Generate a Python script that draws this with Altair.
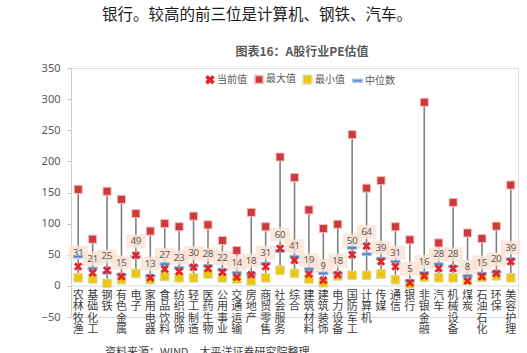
import altair as alt
import pandas as pd

# ---------------- data ----------------
categories = ["农林牧渔", "基础化工", "钢铁", "有色金属", "电子", "家用电器", "食品饮料",
              "纺织服饰", "轻工制造", "医药生物", "公用事业", "交通运输", "房地产", "商贸零售",
              "社会服务", "综合", "建筑材料", "建筑装饰", "电力设备", "国防军工", "计算机",
              "传媒", "通信", "银行", "非银金融", "汽车", "机械设备", "煤炭", "石油石化",
              "环保", "美容护理"]
current_vals = [31, 21, 25, 15, 49, 13, 27, 23, 30, 28, 22, 14, 18, 31, 60, 41, 19, 9, 18,
                50, 64, 39, 31, 5, 16, 28, 28, 8, 15, 20, 39]
max_vals = [155, 75, 152, 139, 116, 88, 100, 95, 112, 98, 73, 57, 118, 95, 207, 174, 122, 92,
            99, 243, 157, 169, 95, 74, 295, 69, 134, 85, 76, 96, 162]
min_vals = [13, 11, 4, 10, 20, 10, 15, 13, 13, 19, 13, 11, 8, 13, 25, 20, 11, 5, 16, 17, 17,
            19, 10, 3, 14, 13, 13, 9, 14, 16, 13]
median_vals = [47, 28, 21, 18, 47, 16, 35, 29, 32, 32, 26, 21, 19, 36, 56, 47, 27, 20, 20, 61,
               51, 44, 39, 8, 21, 35, 31, 16, 20, 22, 43]
series_names = ["当前值", "最大值", "最小值", "中位数"]
y_ticks = [-50, 0, 50, 100, 150, 200, 250, 300, 350]

top_text = "银行。较高的前三位是计算机、钢铁、汽车。"
chart_title = "图表16：A股行业PE估值"
source_text = "资料来源：WIND，太平洋证券研究院整理"

# ---------------- tables ----------------
wide = pd.DataFrame({
    "industry": categories,
    "cur": current_vals,
    "max": max_vals,
    "min": min_vals,
    "med": median_vals,
})
wide["vlabel"] = ["\n".join(list(c)) for c in categories]

draw_order = {"最小值": 0, "最大值": 1, "中位数": 2, "当前值": 3}
cols = {"当前值": "cur", "最大值": "max", "最小值": "min", "中位数": "med"}
rows = []
for s in series_names:
    for ind, v in zip(categories, wide[cols[s]]):
        rows.append({"industry": ind, "series": s, "value": v, "ord": draw_order[s]})
long = pd.DataFrame(rows)

X_PATH = ("M-1,-0.6L-0.6,-1L0,-0.4L0.6,-1L1,-0.6L0.4,0L1,0.6L0.6,1L0,0.4L-0.6,1"
          "L-1,0.6L-0.4,0Z")
SQ = "square"
BAR_PATH = "M-1,-0.28H1V0.28H-1Z"
BOX_PATH = "M-1,-0.72H1V0.72H-1Z"

CJK = "Noto Sans CJK SC"

xs = alt.X("industry:N", sort=categories, axis=None,
           scale=alt.Scale(paddingInner=0, paddingOuter=0))
ys = alt.Scale(domain=[-50, 350], nice=False, zero=False)
yaxis = alt.Axis(values=y_ticks, title=None, grid=False, domainColor="#d0d0d0",
                 tickColor="#bfbfbf", tickSize=4, labelPadding=7, labelOverlap=False,
                 labelColor="#595959", labelFontSize=11, labelFont="Noto Sans")


def Y(field):
    return alt.Y(field, scale=ys, axis=yaxis)


base = alt.Chart(wide)

zero_line = alt.Chart(pd.DataFrame({"z": [0]})).mark_rule(color="#d9d9d9", strokeWidth=1).encode(
    y=Y("z:Q")
)

whiskers = base.mark_rule(color="#808080", strokeWidth=1.6).encode(
    x=xs, y=Y("min:Q"), y2="max:Q"
)

leg = alt.Legend(title=None, orient="none", legendX=134, legendY=6, direction="horizontal",
                 labelFont=CJK, labelFontSize=10, labelColor="#595959", symbolSize=45,
                 columnPadding=4, labelOffset=2)

points = alt.Chart(long).mark_point(filled=True, opacity=1, strokeWidth=1).encode(
    x=xs,
    y=Y("value:Q"),
    color=alt.Color("series:N",
                    scale=alt.Scale(domain=series_names,
                                    range=["#e3242b", "#cc3a3d", "#f0c414", "#4f7fc0"]),
                    legend=leg),
    shape=alt.Shape("series:N",
                    scale=alt.Scale(domain=series_names, range=[X_PATH, SQ, SQ, BAR_PATH]),
                    legend=leg),
    stroke=alt.Stroke("series:N",
                      scale=alt.Scale(domain=series_names,
                                      range=["#e3242b", "#f3bdb8", "#d5e0a0", "#9db7e0"]),
                      legend=None),
    size=alt.Size("series:N",
                  scale=alt.Scale(domain=series_names, range=[55, 85, 70, 110]),
                  legend=None),
    order=alt.Order("ord:Q"),
)

boxes = base.mark_point(shape=BOX_PATH, filled=True, size=380, fill="#fbe2d3",
                        opacity=0.8, strokeWidth=0, yOffset=-14).encode(
    x=xs, y=Y("cur:Q")
)
labels = base.mark_text(dy=-14, fontSize=9.5, color="#595959", font="Noto Sans").encode(
    x=xs, y=Y("cur:Q"), text="cur:Q"
)

xlabels = base.transform_calculate(zero="0").mark_text(
    baseline="top", lineBreak="\n", fontSize=11, lineHeight=11.4, dy=4,
    color="#404040", font=CJK
).encode(x=xs, y=Y("zero:Q"), text="vlabel:N")

top_note = alt.Chart(pd.DataFrame({"t": [top_text]})).mark_text(
    fontSize=15.5, color="#1a1a1a", font=CJK, baseline="middle", align="center"
).encode(x=alt.value(186), y=alt.value(-53), text="t:N")

title_note = alt.Chart(pd.DataFrame({"t": [chart_title]})).mark_text(
    fontSize=12, fontWeight="bold", color="#595959", font=CJK, baseline="middle",
    align="center"
).encode(x=alt.value(231), y=alt.value(-16), text="t:N")

src_note = alt.Chart(pd.DataFrame({"t": [source_text]})).mark_text(
    fontSize=11, color="#404040", font=CJK, baseline="top", align="left"
).encode(x=alt.value(34), y=alt.value(279), text="t:N")

chart = alt.layer(
    zero_line, whiskers, boxes, labels, points, xlabels,
    top_note, title_note, src_note
).properties(
    width=447, height=249,
    autosize=alt.AutoSizeParams(type="none"),
    padding={"left": 71, "top": 68, "right": 9, "bottom": 36},
).configure_view(stroke=None).configure(background="white")

chart.save("out.html", embed_options={"renderer": "svg", "actions": False})
